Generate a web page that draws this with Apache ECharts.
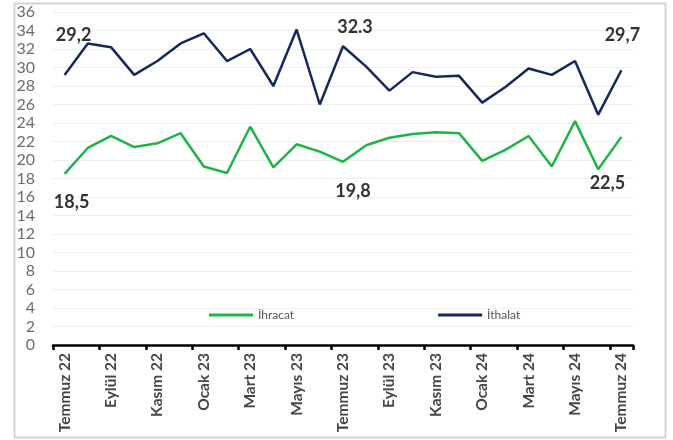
<!DOCTYPE html>
<html>
<head>
<meta charset="utf-8">
<script src="https://cdn.jsdelivr.net/npm/echarts@6/dist/echarts.min.js"></script>
<style>
html,body{margin:0;padding:0;background:#fff;}
#c{width:673px;height:440px;}
</style>
</head>
<body>
<div id="c"></div>
<script>
var categories = ['Temmuz 22','Ağustos 22','Eylül 22','Ekim 22','Kasım 22','Aralık 22','Ocak 23','Şubat 23','Mart 23','Nisan 23','Mayıs 23','Haziran 23','Temmuz 23','Ağustos 23','Eylül 23','Ekim 23','Kasım 23','Aralık 23','Ocak 24','Şubat 24','Mart 24','Nisan 24','Mayıs 24','Haziran 24','Temmuz 24'];
var ihracat = [18.5,21.3,22.6,21.4,21.8,22.9,19.3,18.6,23.6,19.2,21.7,20.9,19.8,21.6,22.4,22.8,23.0,22.9,19.9,21.1,22.6,19.3,24.2,19.0,22.5];
var ithalat = [29.2,32.6,32.2,29.2,30.7,32.6,33.7,30.7,32.0,28.0,34.1,26.0,32.3,30.1,27.5,29.5,29.0,29.1,26.2,27.9,29.9,29.2,30.7,24.9,29.7];
var yTicks = {min:0, max:36, interval:2};
var seriesNames = ['İhracat','İthalat'];
// annotations: [series index, point index, text, position]
var annotations = [
  [0, 0, '18,5', 'bottom'],
  [0, 12, '19,8', 'bottom'],
  [0, 24, '22,5', 'bottom'],
  [1, 0, '29,2', 'top'],
  [1, 12, '32.3', 'top'],
  [1, 24, '29,7', 'top']
];
var annOffsets = {
  '0-0':[7,14], '0-12':[10,15], '0-24':[-14,32],
  '1-0':[9,-26], '1-12':[12,-5], '1-24':[1,-21]
};

function buildData(values, si){
  return values.map(function(v, i){
    var item = {value: v};
    annotations.forEach(function(a){
      if (a[0] === si && a[1] === i){
        item.label = {
          show: true, formatter: a[2], position: a[3], distance: 5,
          offset: annOffsets[si + '-' + i],
          fontSize: 18, fontWeight: 'bold', color: '#333333',
          fontFamily: 'Lato'
        };
      }
    });
    return item;
  });
}

var chart = echarts.init(document.getElementById('c'), null, {renderer:'canvas'});
chart.setOption({
  backgroundColor: '#ffffff',
  animation: false,
  graphic: [{
    type: 'rect', left: 12, top: 1,
    shape: {width: 651, height: 434},
    style: {fill: 'none', stroke: '#d4d4d4', lineWidth: 2},
    silent: true
  }],
  grid: {left: 53, right: 40, top: 12, bottom: 95, containLabel: false},
  legend: {
    data: seriesNames,
    left: 204, top: 304,
    itemWidth: 44, itemHeight: 3, itemGap: 144,
    icon: 'rect',
    textStyle: {fontFamily: 'Lato', fontSize: 12, color: '#555555'}
  },
  xAxis: {
    type: 'category',
    data: categories,
    boundaryGap: true,
    axisLine: {lineStyle: {color: '#000000', width: 2.5}},
    axisTick: {show: true, interval: 1, length: 5, lineStyle: {color: '#000000', width: 2.5}},
    axisLabel: {
      interval: 1, rotate: 90, margin: 8,
      fontFamily: 'Lato', fontSize: 15.5, fontWeight: 'bold', color: '#454545'
    },
    splitLine: {show: false}
  },
  yAxis: {
    type: 'value',
    min: yTicks.min, max: yTicks.max, interval: yTicks.interval,
    axisLine: {show: false},
    axisTick: {show: false},
    axisLabel: {margin: 18, fontFamily: 'Lato', fontSize: 16, color: '#6b6b6b'},
    splitLine: {lineStyle: {color: '#efefef', width: 1}}
  },
  series: [
    {
      name: seriesNames[0], type: 'line', data: buildData(ihracat, 0),
      symbol: 'circle', symbolSize: 0, showSymbol: true,
      lineStyle: {color: '#1db546', width: 2.5},
      itemStyle: {color: '#1db546'}
    },
    {
      name: seriesNames[1], type: 'line', data: buildData(ithalat, 1),
      symbol: 'circle', symbolSize: 0, showSymbol: true,
      lineStyle: {color: '#14275f', width: 2.5},
      itemStyle: {color: '#14275f'}
    }
  ]
});
</script>
</body>
</html>
